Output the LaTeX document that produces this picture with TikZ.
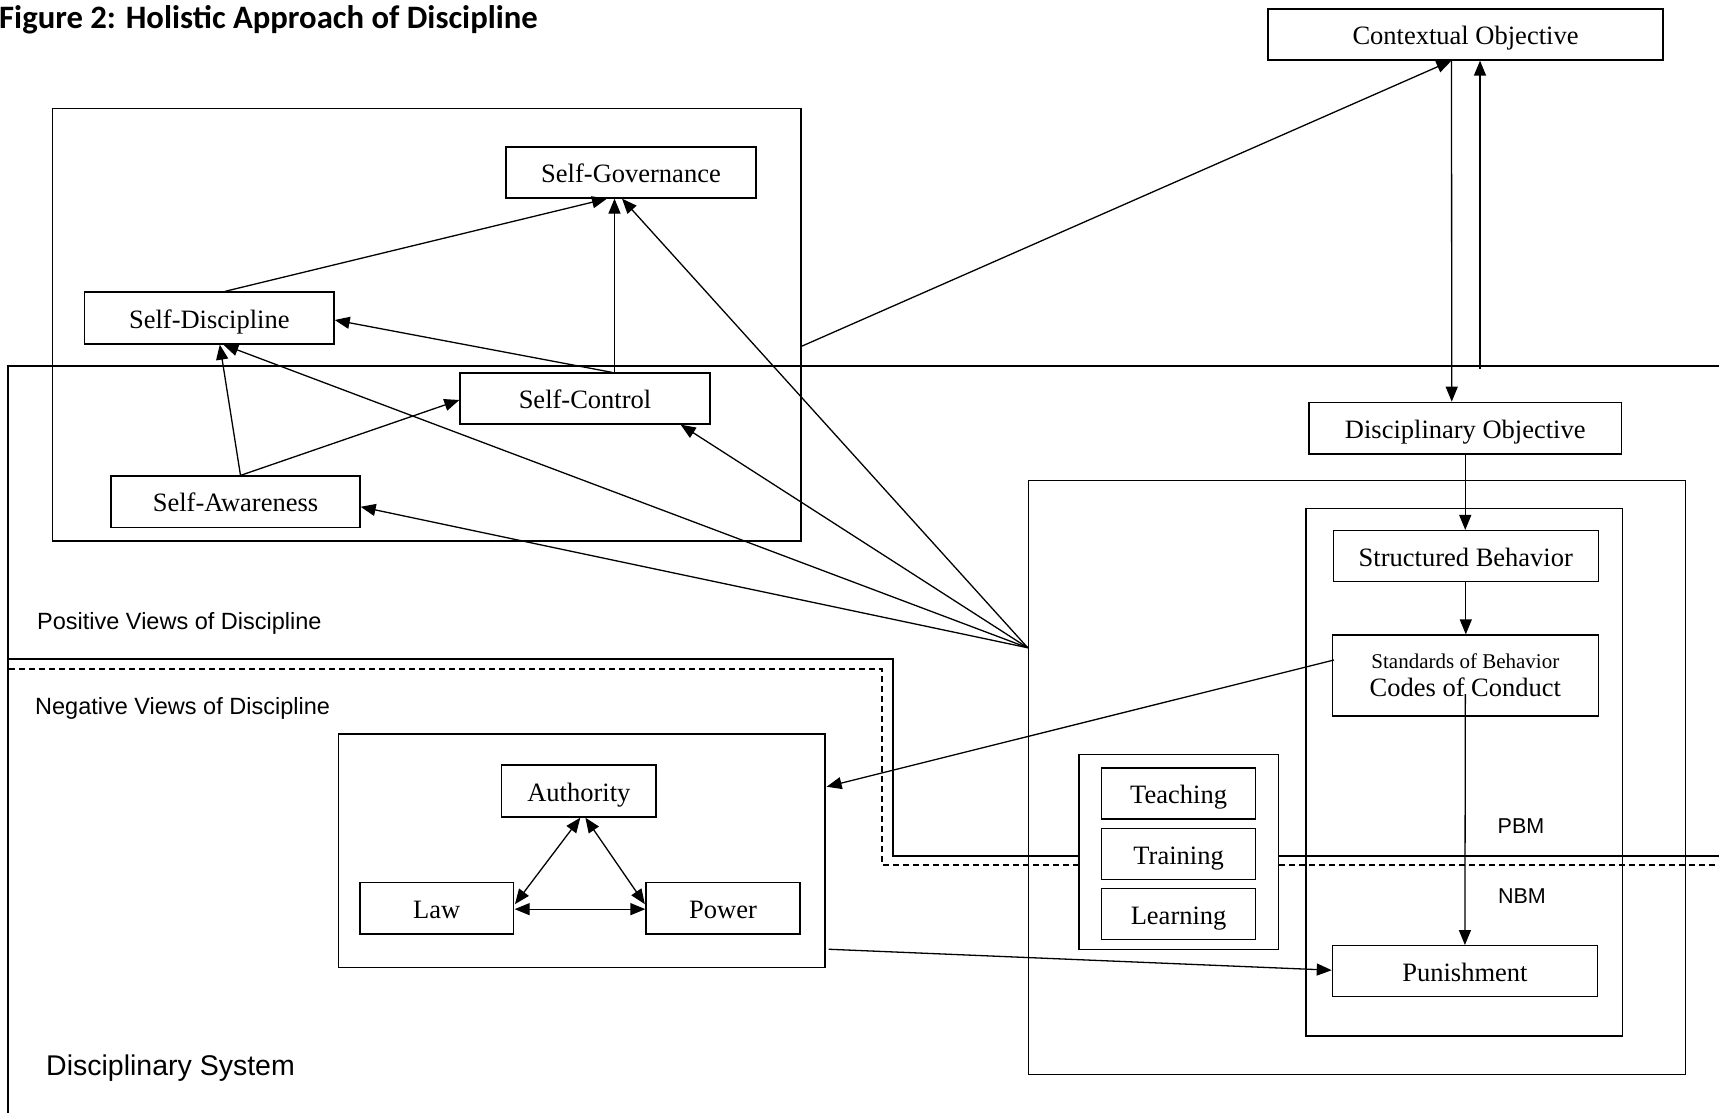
\documentclass[tikz,border=0pt]{standalone}
\usepackage{fontspec}
\setmainfont{Liberation Serif}
\newfontfamily\lsans{Liberation Sans}
\newfontfamily\carl{Carlito}
\usetikzlibrary{arrows.meta,calc}
\tikzset{
  frame/.style={draw, line width=1.3pt, inner sep=0pt},
  box/.style={draw, line width=1.3pt, inner sep=0pt, font=\fontsize{26.5}{30}\selectfont},
  one/.style={text height=20.3pt, text depth=0pt},
  arr/.style={-{Triangle[length=15pt,width=12pt]}, line width=1.3pt},
  darr/.style={{Triangle[length=15pt,width=12pt]}-{Triangle[length=15pt,width=12pt]}, line width=1.3pt},
  lbl/.style={inner sep=0pt, anchor=west},
  sep/.style={line width=1.3pt},
  sepdash/.style={line width=1.3pt, dash pattern=on 6pt off 4pt},
}
\begin{document}
\begin{tikzpicture}[x=1pt,y=-1pt]
\fill[white] (0,0) rectangle (1719,1113);
\useasboundingbox (0,0) rectangle (1719,1113);

% title
\node[anchor=base west, inner sep=0pt, font=\carl\bfseries\fontsize{32.7}{36}\selectfont] (title) at (-1,28.5) {Figure 2: Holistic Approach of Discipline};

% frames
\node[frame, minimum width=748.5pt, minimum height=432.5pt] (selfbox) at (426.75,324.75) {};
\node[frame, minimum width=657.1pt, minimum height=593.9pt] (rbox) at (1356.95,777.35) {};
\node[frame, minimum width=316.6pt, minimum height=527.5pt] (ibox) at (1464.3,772.25) {};
\node[frame, minimum width=199.3pt, minimum height=195pt] (ttl) at (1178.65,852.25) {};
\node[frame, minimum width=486.7pt, minimum height=233.5pt] (negbox) at (581.65,850.75) {};

% disciplinary system boundary
\draw[sep] (1719,366) -- (8,366) -- (8,1113);
% positive / negative boundaries
\draw[sep] (9,659) -- (893,659) -- (893,856) -- (ttl.west |- 0,856);
\draw[sep] (ttl.east |- 0,856) -- (1719,856);
\draw[sepdash] (9,669) -- (882,669) -- (882,865) -- (ttl.west |- 0,865);
\draw[sepdash] (ttl.east |- 0,865) -- (1719,865);

% boxes
\node[box, one, minimum width=395pt, minimum height=51pt] (co) at (1465.5,34.5) {Contextual Objective};
\node[box, one, minimum width=250pt, minimum height=51pt] (sg) at (631,172.5) {Self-Governance};
\node[box, one, minimum width=249.5pt, minimum height=52pt] (sd) at (209.3,318) {Self-Discipline};
\node[box, one, minimum width=250pt, minimum height=51pt] (sc) at (585,398.5) {Self-Control};
\node[box, one, minimum width=249pt, minimum height=51.5pt] (sa) at (235.5,501.8) {Self-Awareness};
\node[box, one, minimum width=312.5pt, minimum height=51.7pt] (dobj) at (1465.25,428.15) {Disciplinary Objective};
\node[box, one, minimum width=265pt, minimum height=51pt] (sb) at (1465.8,556.1) {Structured Behavior};
\node[box, minimum width=266pt, minimum height=81pt, align=center] (std) at (1465.35,675.5)
  {{\fontsize{21}{24}\selectfont Standards of Behavior}\\[-2pt]{\fontsize{26.5}{30}\selectfont Codes of Conduct}};
\node[box, one, minimum width=265pt, minimum height=51pt] (pun) at (1464.9,971.2) {Punishment};
\node[box, one, minimum width=153.6pt, minimum height=51pt] (teach) at (1178.6,793.5) {Teaching};
\node[box, one, minimum width=153.6pt, minimum height=51pt] (train) at (1178.6,854.1) {Training};
\node[box, one, minimum width=153.6pt, minimum height=51pt] (learn) at (1178.6,914.3) {Learning};
\node[box, one, minimum width=154.3pt, minimum height=52pt] (auth) at (578.85,791) {Authority};
\node[box, one, minimum width=153.3pt, minimum height=51.7pt] (law) at (436.65,908.15) {Law};
\node[box, one, minimum width=154pt, minimum height=51.7pt] (power) at (723,908.15) {Power};

% labels
\node[lbl, font=\lsans\fontsize{23.5}{26}\selectfont] (posl) at (37,623) {Positive Views of Discipline};
\node[lbl, font=\lsans\fontsize{23.5}{26}\selectfont] (negl) at (35,708) {Negative Views of Discipline};
\node[lbl, font=\lsans\fontsize{28.5}{32}\selectfont] (dsl) at (46,1068) {Disciplinary System};
\node[inner sep=0pt, font=\lsans\fontsize{21.5}{24}\selectfont] (pbm) at (1521,826) {PBM};
\node[inner sep=0pt, font=\lsans\fontsize{21.5}{24}\selectfont] (nbm) at (1522,896) {NBM};

% self group arrows
\draw[arr] ($(sd.north)+(15.7,0)$) -- ($(sg.south)+(-24,0)$);
\draw[arr] ($(sc.north)+(29.5,0)$) -- ($(sg.south)+(-16.5,0)$);
\draw[arr] ($(sc.north)+(27,0)$) -- ($(sd.east)+(0,2)$);
\draw[arr] ($(sa.north)+(5,0)$) -- ($(sd.south)+(10.5,0)$);
\draw[arr] ($(sa.north)+(5,0)$) -- ($(sc.west)+(0,1.5)$);

% hub arrows
\coordinate (hub) at ($(rbox.north west)+(0,168)$);
\draw[arr] (hub) -- ($(sg.south)+(-9,0)$);
\draw[arr] (hub) -- ($(sd.south)+(14,0)$);
\draw[arr] (hub) -- ($(sc.south east)+(-30,0)$);
\draw[arr] (hub) -- ($(sa.east)+(0,5)$);

% objectives
\draw[arr] ($(selfbox.east)+(0,21.5)$) -- ($(co.south)+(-14,0)$);
\draw[arr] ($(co.south)+(-14,0)$) -- ($(dobj.north)+(-13.5,0)$);
\coordinate (upstart) at (1480,369);
\draw[arr] (upstart) -- ($(co.south)+(14.5,0)$);
\draw[arr] (dobj.south) -- (dobj.south |- sb.north);
\draw[arr] (sb.south) -- (sb.south |- std.north);
\draw[arr] ($(std.center)+(0,18.5)$) -- (pun.north);
\draw[arr] ($(std.west)+(2.3,-15.5)$) -- ($(negbox.east)+(1,-64)$);
\draw[arr] ($(negbox.east)+(3,98.5)$) -- ($(pun.west)+(0,-1)$);

% authority triangle
\draw[darr] ($(auth.south)+(1.5,0)$) -- ($(law.east)+(1,-4)$);
\draw[darr] ($(auth.south)+(6.5,0)$) -- ($(power.west)+(-0.5,-4)$);
\draw[darr] ($(law.east)+(0.7,1)$) -- ($(power.west)+(0,1)$);
\end{tikzpicture}
\end{document}
